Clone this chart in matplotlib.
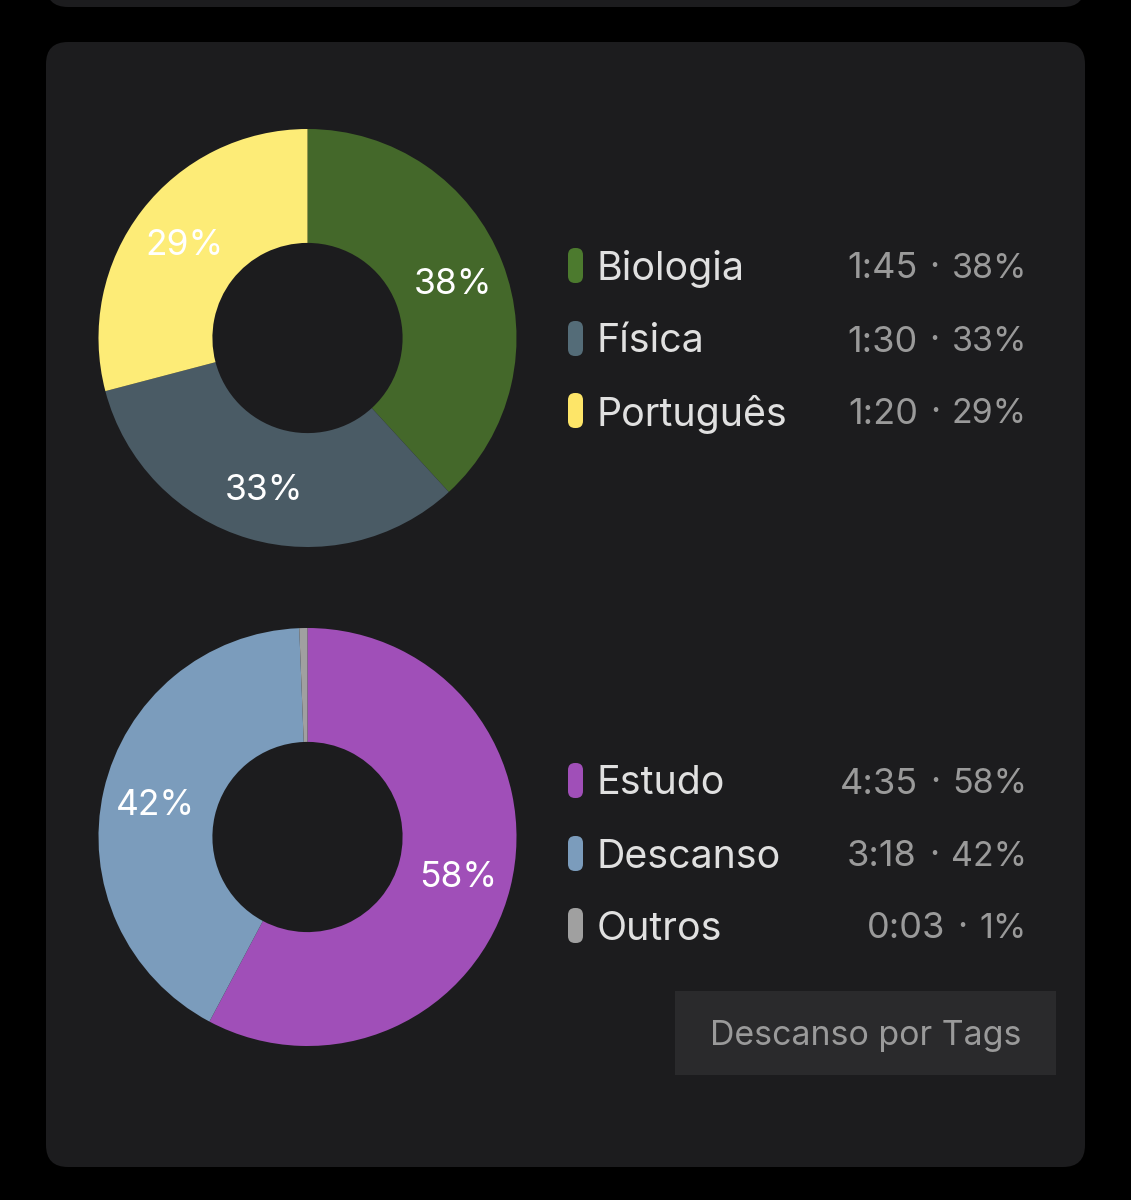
import matplotlib
matplotlib.use("Agg")
import matplotlib.pyplot as plt
from matplotlib.patches import FancyBboxPatch, Rectangle

# dados
subjects = ["Biologia", "Física", "Português"]
subject_minutes = [105, 90, 80]
subject_time = ["1:45", "1:30", "1:20"]
subject_pct = ["38%", "33%", "29%"]
subject_colors = ["#44682a", "#4a5b65", "#fdec77"]
subject_swatches = ["#4c7a2e", "#546c78", "#fde568"]

tags = ["Estudo", "Descanso", "Outros"]
tag_minutes = [275, 198, 3]
tag_time = ["4:35", "3:18", "0:03"]
tag_pct = ["58%", "42%", "1%"]
tag_labels = ["58%", "42%", ""]
tag_colors = ["#a04fb8", "#7b9cbc", "#a0a0a0"]

W, H = 1131, 1200
plt.rcParams['font.family'] = ['Inter', 'DejaVu Sans']

fig = plt.figure(figsize=(W / 100, H / 100), dpi=100, facecolor='black')
bg = fig.add_axes([0, 0, 1, 1])
bg.set_xlim(0, W)
bg.set_ylim(H, 0)
bg.axis('off')

# cartoes
bg.add_patch(FancyBboxPatch((46, 42), 1039, 1125, boxstyle="round,pad=0,rounding_size=22", fc='#1c1c1e', ec='none'))
bg.add_patch(FancyBboxPatch((46, -60), 1039, 67, boxstyle="round,pad=0,rounding_size=22", fc='#1c1c1e', ec='none'))


def donut(cx, cy, values, colors, labels):
    r = 209
    ax = fig.add_axes([(cx - r) / W, 1 - (cy + r) / H, 2 * r / W, 2 * r / H])
    ax.set_facecolor('none')
    wedges, texts = ax.pie(values, colors=colors, labels=labels, startangle=90, counterclock=False, radius=1,
                           labeldistance=0.745, wedgeprops=dict(width=0.545, linewidth=0),
                           textprops=dict(color='white', fontsize=25.5, ha='center', va='center'))
    for t in texts:
        t.set_y(t.get_position()[1] - 3 / r)  # o texto fica um pouco alto
    ax.set_xlim(-1, 1)
    ax.set_ylim(-1, 1)
    ax.set_aspect('equal')


def legend(ys, names, times, pcts, colors):
    rend = fig.canvas.get_renderer()
    for y, name, tm, pct, c in zip(ys, names, times, pcts, colors):
        bg.add_patch(FancyBboxPatch((568, y - 18), 15, 35, boxstyle="round,pad=0,rounding_size=7", fc=c, ec='none'))
        bg.text(596.5, y + 3, name, color='#e0e0e0', fontsize=28.3, va='center', ha='left')
        p = bg.text(1027, y + 3, pct, color='#9a9a9a', fontsize=24.5, va='center', ha='right')
        left = p.get_window_extent(rend).x0
        bg.text(left - 17, y + 2, "·", color='#9a9a9a', fontsize=25, va='center', ha='center')
        bg.text(left - 34, y + 3, tm, color='#9a9a9a', fontsize=26, va='center', ha='right')


donut(307.5, 338, subject_minutes, subject_colors, subject_pct)
donut(307.5, 837, tag_minutes, tag_colors, tag_labels)
legend([266, 339, 411], subjects, subject_time, subject_pct, subject_swatches)
legend([781, 854, 926], tags, tag_time, tag_pct, tag_colors)

# botao
bg.add_patch(Rectangle((675, 991), 381, 84, fc='#2a2a2c', ec='none'))
bg.text(866, 1036, "Descanso por Tags", color='#9a9a9a', fontsize=24.4, va='center', ha='center')

fig.savefig('out.png', dpi=100, facecolor='black')
